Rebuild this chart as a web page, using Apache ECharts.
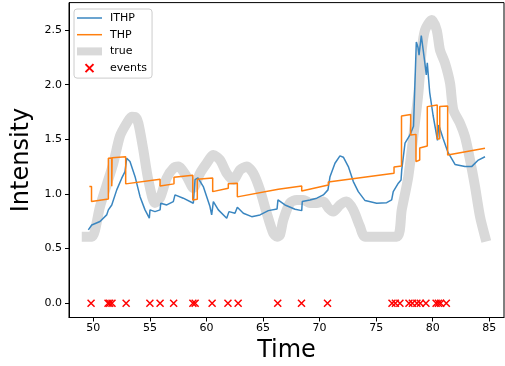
<!DOCTYPE html>
<html>
<head>
<meta charset="utf-8">
<script src="https://cdn.jsdelivr.net/npm/echarts@6/dist/echarts.min.js"></script>
<style>
  html, body { margin: 0; padding: 0; background: #fff; }
  #chart { width: 505px; height: 366px; }
</style>
</head>
<body>
<div id="chart"></div>
<script>
// values
const ithpT = [49.56, 49.86, 50.59, 51.18, 51.33, 51.63, 52.07, 52.51, 52.80, 52.95, 53.24, 53.69, 54.13, 54.57, 54.95, 55.01,
  55.45, 55.90, 55.96, 56.49, 57.07, 57.22, 57.95, 58.84, 58.99, 59.25, 59.72, 60.31, 60.46, 60.61, 61.05, 61.79,
  61.93, 61.99, 62.52, 62.67, 62.73, 63.26, 64.00, 64.73, 65.47, 66.24, 66.32, 66.94, 67.83, 68.42, 68.47, 69.15,
  69.75, 70.33, 70.74, 70.92, 71.36, 71.80, 72.10, 72.54, 72.98, 73.42, 74.02, 75.05, 75.93, 76.37, 76.51, 76.96,
  77.20, 77.26, 77.55, 77.99, 78.30, 78.55, 78.70, 78.79, 78.99, 79.29, 79.43, 79.52, 79.73, 80.03, 80.42, 80.53,
  80.91, 81.35, 81.97, 82.85, 83.44, 84.03, 84.62]
const ithpV = [0.671, 0.716, 0.747, 0.808, 0.854, 0.899, 1.037, 1.144, 1.204, 1.327, 1.296, 1.158, 0.975, 0.854, 0.778, 0.854,
  0.838, 0.854, 0.915, 0.899, 0.930, 0.991, 0.961, 0.915, 1.130, 1.146, 1.067, 0.884, 0.808, 0.930, 0.854, 0.778,
  0.762, 0.838, 0.823, 0.808, 0.878, 0.823, 0.792, 0.808, 0.847, 0.863, 0.945, 0.899, 0.860, 0.847, 0.930, 0.945,
  0.961, 0.991, 1.037, 1.158, 1.281, 1.348, 1.336, 1.250, 1.113, 1.021, 0.939, 0.915, 0.920, 0.945, 1.021, 1.098,
  1.128, 1.220, 1.464, 1.540, 1.620, 2.390, 2.340, 2.270, 2.450, 2.210, 2.090, 2.200, 1.930, 1.720, 1.490, 1.630,
  1.510, 1.380, 1.270, 1.250, 1.250, 1.310, 1.340]

const thpT = [49.65, 49.84, 49.84, 51.33, 51.33, 51.63, 51.63, 51.66, 51.66, 52.86, 52.86, 55.90, 55.90, 57.13, 57.13, 58.79,
  58.79, 59.19, 59.19, 60.55, 60.55, 61.93, 61.93, 62.73, 62.73, 66.35, 66.35, 68.42, 68.42, 70.77, 70.77, 76.58,
  76.58, 77.24, 77.24, 78.05, 78.05, 78.52, 78.52, 78.85, 78.85, 79.52, 79.52, 80.40, 80.40, 80.62, 80.62, 81.32,
  81.32, 84.62]
const thpV = [1.067, 1.067, 0.930, 0.954, 1.327, 1.329, 1.070, 1.070, 1.330, 1.341, 1.092, 1.134, 1.073, 1.092, 1.153, 1.171,
  0.945, 0.951, 1.134, 1.145, 1.021, 1.052, 1.092, 1.098, 0.973, 1.043, 1.059, 1.073, 1.027, 1.082, 1.110, 1.189,
  1.247, 1.256, 1.714, 1.727, 1.540, 1.545, 1.296, 1.311, 1.421, 1.439, 1.799, 1.814, 1.503, 1.505, 1.799, 1.805,
  1.357, 1.418]

const trueT = [49.42, 49.89, 50.59, 51.18, 51.77, 52.36, 52.95, 53.39, 53.69, 53.98, 54.42, 54.86, 55.45, 55.90, 56.49, 57.07,
  57.51, 58.26, 58.84, 59.43, 60.02, 60.61, 61.20, 61.79, 62.37, 62.97, 63.56, 64.14, 64.73, 65.33, 65.91, 66.24,
  66.50, 66.79, 67.39, 67.98, 68.56, 69.15, 69.75, 70.33, 70.77, 71.21, 71.80, 72.40, 72.98, 73.57, 74.01, 76.82,
  77.26, 77.84, 78.28, 78.73, 79.03, 79.32, 79.91, 80.35, 80.64, 81.09, 81.53, 81.82, 82.41, 82.85, 83.30, 83.74,
  84.18, 84.62]
const trueV = [0.609, 0.609, 0.884, 1.082, 1.281, 1.531, 1.647, 1.707, 1.705, 1.647, 1.403, 1.128, 0.918, 0.963, 1.146, 1.235,
  1.250, 1.158, 1.055, 1.189, 1.281, 1.357, 1.311, 1.189, 1.128, 1.220, 1.250, 1.189, 1.037, 0.823, 0.640, 0.609,
  0.625, 0.762, 0.918, 0.945, 0.945, 0.918, 0.918, 0.930, 0.872, 0.838, 0.899, 0.930, 0.854, 0.701, 0.609, 0.609,
  0.854, 1.158, 1.524, 1.921, 2.317, 2.500, 2.592, 2.500, 2.317, 2.196, 2.013, 1.769, 1.647, 1.524, 1.311, 1.067,
  0.792, 0.609]

const eventTimes = [49.8, 51.3, 51.45, 51.65, 52.9, 55.0, 55.9, 57.1, 58.8, 59.0, 60.5, 61.9, 62.8, 66.3, 68.4, 70.7,
  76.4, 76.7, 77.1, 77.9, 78.2, 78.6, 78.9, 79.4, 80.3, 80.5, 80.7, 81.2]

const xTicks = [50, 55, 60, 65, 70, 75, 80, 85]
const yTicks = [0, 0.5, 1, 1.5, 2, 2.5]

const zip = (ts, vs) => ts.map((t, i) => [t, vs[i]])
const font = 'DejaVu Sans'
const crossIcon = 'path://M0,0L10,10M10,0L0,10'
const lineIcon = 'path://M0,0H25V1.5H0Z'
const blue = '#3a86c0'
const orange = '#ff7f0e'
const gray = '#d9d9d9'

const chart = echarts.init(document.getElementById('chart'))
chart.setOption({
  animation: false,
  grid: {
    left: 69, right: 1, top: 2.6, bottom: 48.5,
    outerBoundsMode: 'none',
    show: true, borderColor: '#000', borderWidth: 1
  },
  legend: {
    orient: 'vertical',
    left: 74, top: 9,
    padding: [3, 5, 4, 3],
    itemWidth: 25, itemHeight: 8, itemGap: 4.7,
    backgroundColor: '#fff',
    borderColor: '#ccc', borderWidth: 1, borderRadius: 3,
    textStyle: { fontFamily: font, fontSize: 11, color: '#000', lineHeight: 12, padding: [0, 0, 0, 3] },
    data: [
      { name: 'ITHP', icon: lineIcon, itemStyle: { color: blue } },
      { name: 'THP', icon: lineIcon, itemStyle: { color: orange } },
      { name: 'true', icon: 'rect', itemStyle: { color: gray } },
      { name: 'events', icon: crossIcon }
    ]
  },
  xAxis: {
    type: 'value',
    min: 47.85, max: 86.3,
    name: 'Time', nameLocation: 'middle', nameGap: 21,
    nameTextStyle: { fontFamily: font, fontSize: 24, color: '#000' },
    axisLine: { show: true, onZero: false, lineStyle: { color: '#000' } },
    axisTick: { show: true, length: 4, customValues: xTicks, lineStyle: { color: '#000' } },
    axisLabel: { customValues: xTicks, fontFamily: font, fontSize: 11, color: '#000', margin: 5 },
    splitLine: { show: false }
  },
  yAxis: {
    type: 'value',
    min: -0.131, max: 2.751,
    name: 'Intensity', nameLocation: 'middle', nameGap: 26,
    nameTextStyle: { fontFamily: font, fontSize: 24, color: '#000' },
    axisLine: { show: true, onZero: false, lineStyle: { color: '#000' } },
    axisTick: { show: true, length: 4, customValues: yTicks, lineStyle: { color: '#000' } },
    axisLabel: {
      customValues: yTicks, fontFamily: font, fontSize: 11, color: '#000', margin: 7,
      formatter: v => v.toFixed(1)
    },
    splitLine: { show: false }
  },
  series: [
    {
      name: 'true', type: 'line', data: zip(trueT, trueV),
      symbol: 'none', smooth: 0.25,
      itemStyle: { color: gray },
      lineStyle: { color: gray, width: 10, cap: 'square', join: 'round' },
      z: 1
    },
    {
      name: 'ITHP', type: 'line', data: zip(ithpT, ithpV),
      symbol: 'none',
      itemStyle: { color: blue },
      lineStyle: { color: blue, width: 1.5 },
      z: 2
    },
    {
      name: 'THP', type: 'line', data: zip(thpT, thpV),
      symbol: 'none',
      itemStyle: { color: orange },
      lineStyle: { color: orange, width: 1.5 },
      z: 3
    },
    {
      name: 'events', type: 'scatter', data: eventTimes.map(t => [t, 0]),
      symbol: crossIcon, symbolSize: 7,
      itemStyle: { color: 'red', borderColor: 'red', borderWidth: 1.5, opacity: 1 },
      z: 4
    }
  ]
})
</script>
</body>
</html>
